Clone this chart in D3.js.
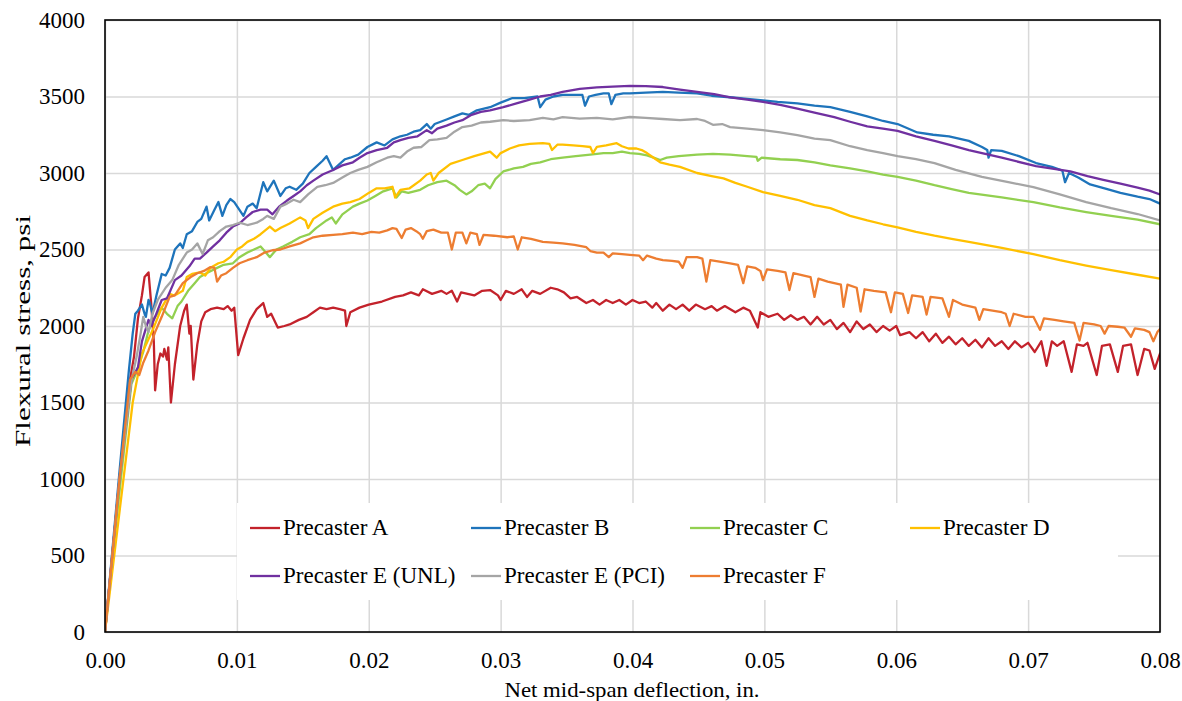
<!DOCTYPE html>
<html><head><meta charset="utf-8">
<script src="https://cdn.jsdelivr.net/npm/d3@7"></script>
<style>body{margin:0;background:#fff}text{font-family:"Liberation Serif","Times New Roman",serif;fill:#000}</style>
</head><body>
<svg id="chart" width="1182" height="701"></svg>
<script>
const xTicks = [0, 0.01, 0.02, 0.03, 0.04, 0.05, 0.06, 0.07, 0.08];
const yTicks = [0, 500, 1000, 1500, 2000, 2500, 3000, 3500, 4000];
const seriesNames = ["Precaster A", "Precaster B", "Precaster C", "Precaster D", "Precaster E (UNL)", "Precaster E (PCI)", "Precaster F"];
const seriesColors = ["#C3222B", "#1E74BB", "#92D050", "#FFC000", "#7030A0", "#A5A5A5", "#ED7D31"];

const precasterA = [[0,0],[0.0011,1000],[0.0019,1650],[0.0022,1800],[0.0025,2050],[0.0028,2200],[0.003,2320],[0.0033,2350],[0.0035,2150],[0.0037,1900],[0.0038,1580],[0.004,1750],[0.0042,1820],[0.0044,1800],[0.0045,1850],[0.0047,1780],[0.0048,1860],[0.005,1500],[0.0053,1750],[0.0057,2000],[0.006,2100],[0.0062,2140],[0.0064,1950],[0.0065,2000],[0.0067,1650],[0.007,1880],[0.0073,2030],[0.0076,2090],[0.008,2110],[0.0085,2120],[0.009,2110],[0.0093,2130],[0.0096,2100],[0.0098,2120],[0.0101,1810],[0.0105,1920],[0.011,2040],[0.0115,2110],[0.012,2150],[0.0123,2060],[0.0126,2080],[0.0131,1990],[0.0136,2000],[0.014,2010],[0.0147,2040],[0.0153,2060],[0.0158,2090],[0.0163,2120],[0.0168,2110],[0.0173,2120],[0.0178,2110],[0.0182,2100],[0.0183,2000],[0.0186,2090],[0.0193,2120],[0.02,2140],[0.021,2160],[0.022,2190],[0.0226,2200],[0.0232,2220],[0.0238,2200],[0.0241,2240],[0.0248,2210],[0.0255,2230],[0.0259,2210],[0.0263,2230],[0.0267,2160],[0.027,2220],[0.028,2200],[0.0286,2230],[0.0292,2235],[0.0298,2200],[0.03,2170],[0.0304,2230],[0.031,2210],[0.0316,2240],[0.032,2190],[0.0324,2230],[0.033,2210],[0.0338,2250],[0.0343,2240],[0.0348,2220],[0.0353,2180],[0.0358,2190],[0.0365,2150],[0.037,2170],[0.0375,2140],[0.038,2170],[0.0385,2150],[0.039,2170],[0.0395,2140],[0.04,2170],[0.0405,2150],[0.041,2160],[0.0415,2120],[0.0418,2150],[0.0423,2100],[0.0428,2140],[0.0433,2110],[0.0438,2140],[0.0443,2100],[0.0448,2140],[0.0455,2110],[0.046,2130],[0.0464,2100],[0.047,2130],[0.0478,2090],[0.0484,2120],[0.0489,2100],[0.0495,1990],[0.0497,2090],[0.0503,2060],[0.051,2080],[0.0515,2040],[0.052,2070],[0.0525,2040],[0.053,2060],[0.0535,2010],[0.054,2060],[0.0545,2010],[0.055,2040],[0.0555,1980],[0.056,2020],[0.0565,1960],[0.057,2030],[0.0575,1980],[0.058,2010],[0.0585,1960],[0.059,2000],[0.0595,1970],[0.06,2000],[0.0603,1940],[0.061,1960],[0.0615,1920],[0.062,1960],[0.0625,1900],[0.063,1950],[0.0635,1890],[0.064,1930],[0.0645,1880],[0.065,1920],[0.0655,1870],[0.066,1910],[0.0665,1860],[0.067,1920],[0.0675,1870],[0.068,1900],[0.0685,1850],[0.069,1900],[0.0695,1860],[0.07,1890],[0.0705,1830],[0.071,1900],[0.0714,1740],[0.0718,1900],[0.0722,1870],[0.0727,1900],[0.0733,1700],[0.0737,1880],[0.0742,1870],[0.0745,1890],[0.0752,1680],[0.0756,1870],[0.0762,1880],[0.0768,1700],[0.0772,1870],[0.0778,1880],[0.0783,1680],[0.0788,1850],[0.0792,1840],[0.0796,1720],[0.08,1820]];

const precasterB = [[0,0],[0.0011,1050],[0.0018,1700],[0.0021,1950],[0.0023,2080],[0.0025,2100],[0.0028,2140],[0.003,2080],[0.0031,2060],[0.0033,2170],[0.0034,2150],[0.0036,2080],[0.0039,2200],[0.0043,2340],[0.0046,2330],[0.0049,2380],[0.0053,2500],[0.0057,2540],[0.0059,2510],[0.0062,2600],[0.0066,2620],[0.007,2680],[0.0073,2700],[0.0077,2780],[0.0079,2690],[0.0083,2760],[0.0086,2810],[0.0089,2720],[0.0092,2790],[0.0095,2830],[0.0098,2810],[0.0105,2720],[0.0108,2780],[0.0112,2800],[0.0115,2770],[0.012,2940],[0.0123,2880],[0.0128,2950],[0.0133,2850],[0.0137,2900],[0.014,2910],[0.0145,2890],[0.015,2930],[0.0155,3000],[0.016,3040],[0.0165,3080],[0.0168,3110],[0.0173,3020],[0.0178,3060],[0.0182,3090],[0.0186,3100],[0.0192,3120],[0.0199,3170],[0.0206,3200],[0.0212,3180],[0.0218,3220],[0.0224,3240],[0.0229,3250],[0.0234,3270],[0.0239,3280],[0.0244,3320],[0.0247,3290],[0.025,3320],[0.0259,3350],[0.0265,3370],[0.0271,3390],[0.0276,3380],[0.0282,3410],[0.0292,3430],[0.03,3460],[0.0309,3490],[0.0318,3490],[0.0328,3500],[0.033,3430],[0.0334,3480],[0.034,3500],[0.0347,3510],[0.0355,3510],[0.0362,3510],[0.0364,3440],[0.0367,3500],[0.0372,3510],[0.0378,3520],[0.0382,3520],[0.0384,3450],[0.0387,3510],[0.0393,3520],[0.0398,3520],[0.041,3525],[0.0423,3530],[0.0435,3525],[0.0449,3520],[0.046,3505],[0.0474,3495],[0.0487,3485],[0.0499,3475],[0.051,3465],[0.0525,3455],[0.0538,3440],[0.055,3430],[0.0565,3400],[0.0578,3370],[0.059,3340],[0.0601,3320],[0.0616,3265],[0.0628,3250],[0.064,3240],[0.0655,3210],[0.0665,3170],[0.0669,3150],[0.067,3100],[0.0672,3150],[0.068,3145],[0.0693,3110],[0.0706,3065],[0.0718,3040],[0.0726,3015],[0.0728,2940],[0.0731,3000],[0.0738,2970],[0.0747,2925],[0.0758,2900],[0.077,2870],[0.0783,2845],[0.0792,2830],[0.08,2800]];

const precasterC = [[0,0],[0.0012,1000],[0.002,1620],[0.0024,1700],[0.0029,1830],[0.0033,1970],[0.0038,2060],[0.0043,2120],[0.0047,2080],[0.0051,2050],[0.0055,2130],[0.0058,2160],[0.0063,2230],[0.0068,2280],[0.0072,2320],[0.0078,2350],[0.0085,2380],[0.009,2400],[0.0097,2410],[0.0102,2450],[0.0108,2480],[0.0113,2500],[0.0118,2520],[0.0122,2480],[0.0125,2450],[0.013,2500],[0.0135,2520],[0.0142,2550],[0.0148,2580],[0.0155,2600],[0.016,2640],[0.0168,2690],[0.0172,2710],[0.0175,2670],[0.018,2730],[0.0188,2780],[0.0193,2800],[0.0199,2820],[0.0205,2850],[0.0211,2880],[0.0218,2900],[0.0221,2840],[0.0225,2880],[0.023,2870],[0.0239,2890],[0.0245,2920],[0.0252,2940],[0.0259,2950],[0.0265,2920],[0.0269,2890],[0.0274,2860],[0.0278,2880],[0.0283,2920],[0.0288,2930],[0.0292,2900],[0.0296,2960],[0.0302,3010],[0.031,3030],[0.0317,3040],[0.0323,3060],[0.033,3070],[0.0338,3090],[0.0347,3100],[0.0357,3110],[0.0368,3120],[0.0378,3130],[0.0385,3130],[0.0392,3140],[0.0398,3130],[0.0405,3125],[0.0411,3115],[0.0416,3100],[0.0421,3085],[0.0426,3100],[0.0435,3110],[0.0449,3120],[0.0461,3125],[0.0474,3120],[0.0487,3110],[0.0494,3105],[0.0495,3080],[0.0498,3100],[0.0512,3090],[0.0525,3085],[0.0538,3070],[0.055,3050],[0.0565,3030],[0.0578,3010],[0.059,2990],[0.0601,2975],[0.0615,2950],[0.0629,2920],[0.0642,2895],[0.0655,2870],[0.068,2840],[0.0704,2810],[0.0724,2775],[0.0744,2745],[0.0763,2720],[0.0783,2695],[0.08,2665]];

const precasterD = [[0,0],[0.0014,1000],[0.0021,1500],[0.0028,1820],[0.0036,1970],[0.0043,2120],[0.0049,2210],[0.0052,2200],[0.0055,2210],[0.0059,2230],[0.0062,2320],[0.0066,2340],[0.0072,2350],[0.0076,2330],[0.008,2380],[0.0086,2410],[0.009,2420],[0.0095,2450],[0.01,2500],[0.0104,2520],[0.0108,2550],[0.0113,2570],[0.0118,2600],[0.0125,2650],[0.0129,2620],[0.0133,2640],[0.014,2670],[0.0148,2710],[0.0152,2690],[0.0154,2640],[0.0158,2700],[0.0165,2740],[0.0173,2780],[0.018,2800],[0.0186,2810],[0.0193,2830],[0.02,2870],[0.0206,2900],[0.0212,2900],[0.0218,2910],[0.022,2840],[0.0224,2890],[0.0231,2900],[0.0239,2950],[0.0244,2990],[0.0247,3000],[0.0249,2950],[0.0253,3000],[0.0262,3060],[0.0271,3085],[0.028,3110],[0.0288,3130],[0.0292,3140],[0.0297,3100],[0.03,3130],[0.0307,3160],[0.0314,3180],[0.0322,3190],[0.0332,3195],[0.0337,3190],[0.0339,3150],[0.0343,3185],[0.0347,3185],[0.0355,3180],[0.0362,3175],[0.0368,3170],[0.037,3130],[0.0373,3170],[0.038,3180],[0.0388,3195],[0.0392,3175],[0.0397,3160],[0.0403,3160],[0.0407,3150],[0.0411,3130],[0.0416,3100],[0.0421,3070],[0.0428,3055],[0.0436,3040],[0.0449,3000],[0.046,2980],[0.0469,2965],[0.0478,2935],[0.0487,2910],[0.0499,2875],[0.0512,2850],[0.0525,2825],[0.0538,2790],[0.055,2770],[0.0565,2720],[0.0578,2690],[0.059,2665],[0.0601,2645],[0.0615,2615],[0.0629,2590],[0.0642,2570],[0.0655,2550],[0.068,2510],[0.0704,2470],[0.0724,2430],[0.0744,2395],[0.0763,2365],[0.0783,2335],[0.08,2310]];

const precasterEUNL = [[0,0],[0.0011,1000],[0.002,1650],[0.0025,1730],[0.0028,1900],[0.0033,2040],[0.0035,2000],[0.0038,2060],[0.0043,2170],[0.0047,2180],[0.0053,2300],[0.0058,2330],[0.0064,2390],[0.0068,2440],[0.0072,2440],[0.0077,2480],[0.0082,2520],[0.0087,2560],[0.0092,2610],[0.0097,2650],[0.0102,2670],[0.0107,2710],[0.0112,2745],[0.0118,2760],[0.0123,2760],[0.0127,2730],[0.0132,2780],[0.0138,2820],[0.0143,2850],[0.0148,2880],[0.0153,2920],[0.0158,2950],[0.0165,2990],[0.0173,3020],[0.018,3050],[0.0188,3070],[0.0193,3100],[0.0199,3130],[0.0206,3150],[0.0214,3165],[0.0219,3200],[0.0224,3215],[0.023,3230],[0.0237,3240],[0.0244,3280],[0.0248,3260],[0.0252,3290],[0.0259,3310],[0.0265,3330],[0.0271,3345],[0.0278,3380],[0.0285,3400],[0.0292,3410],[0.0302,3430],[0.0312,3455],[0.0322,3480],[0.033,3500],[0.0338,3510],[0.0347,3530],[0.036,3550],[0.0373,3560],[0.0385,3565],[0.0398,3570],[0.041,3568],[0.0423,3562],[0.0436,3545],[0.0449,3530],[0.0462,3515],[0.0474,3495],[0.0487,3480],[0.0499,3465],[0.0512,3445],[0.0525,3420],[0.0538,3395],[0.0553,3365],[0.0565,3335],[0.0578,3305],[0.059,3290],[0.0601,3275],[0.0615,3240],[0.0629,3210],[0.0642,3180],[0.0655,3150],[0.068,3100],[0.0706,3045],[0.0732,3010],[0.0745,2980],[0.0757,2955],[0.077,2930],[0.0783,2905],[0.0792,2885],[0.08,2860]];

const precasterEPCI = [[0,0],[0.0011,1000],[0.002,1640],[0.0024,1800],[0.0027,1950],[0.0029,2060],[0.0031,2000],[0.0033,1960],[0.0036,2080],[0.004,2170],[0.0046,2250],[0.0051,2300],[0.0056,2400],[0.0062,2480],[0.0066,2500],[0.007,2540],[0.0074,2470],[0.0078,2560],[0.0082,2580],[0.0087,2620],[0.0092,2650],[0.0097,2660],[0.0102,2675],[0.0108,2660],[0.0115,2675],[0.012,2700],[0.0123,2720],[0.0128,2700],[0.0133,2780],[0.0138,2800],[0.0143,2825],[0.0148,2810],[0.0154,2860],[0.0161,2910],[0.0167,2920],[0.0173,2935],[0.018,2970],[0.0186,3000],[0.0192,3020],[0.0199,3040],[0.0206,3070],[0.0214,3100],[0.0219,3110],[0.0224,3100],[0.0229,3140],[0.0234,3165],[0.024,3170],[0.0246,3215],[0.0252,3220],[0.0259,3230],[0.0265,3270],[0.0271,3300],[0.0278,3310],[0.0285,3330],[0.0292,3335],[0.0302,3345],[0.031,3340],[0.0322,3345],[0.0332,3360],[0.034,3350],[0.0347,3365],[0.036,3355],[0.0373,3360],[0.0385,3350],[0.0398,3366],[0.041,3360],[0.0423,3353],[0.0436,3345],[0.0449,3353],[0.0455,3340],[0.0461,3315],[0.0468,3320],[0.0474,3300],[0.0487,3290],[0.0499,3280],[0.0512,3265],[0.0525,3248],[0.0538,3225],[0.055,3215],[0.0565,3175],[0.0578,3150],[0.059,3130],[0.0601,3110],[0.0615,3090],[0.0629,3065],[0.0645,3020],[0.0665,2975],[0.0685,2940],[0.0704,2908],[0.0724,2860],[0.0744,2810],[0.0763,2770],[0.0783,2732],[0.08,2690]];

const precasterF = [[0,0],[0.0011,1000],[0.0019,1650],[0.0023,1700],[0.0026,1680],[0.0029,1760],[0.0033,1840],[0.0038,1960],[0.0043,2060],[0.0049,2190],[0.0053,2200],[0.0059,2280],[0.0065,2320],[0.007,2345],[0.0075,2360],[0.008,2385],[0.0083,2380],[0.0085,2290],[0.0088,2330],[0.0092,2345],[0.0097,2380],[0.0102,2410],[0.0108,2430],[0.0115,2450],[0.0121,2480],[0.0127,2495],[0.0133,2500],[0.014,2520],[0.0148,2540],[0.0153,2560],[0.0158,2580],[0.0165,2590],[0.0173,2595],[0.018,2600],[0.0188,2610],[0.0195,2600],[0.0202,2615],[0.0208,2610],[0.0214,2625],[0.0218,2640],[0.0221,2635],[0.0225,2575],[0.0228,2630],[0.0232,2640],[0.0236,2620],[0.0239,2600],[0.0241,2570],[0.0244,2620],[0.0249,2630],[0.0255,2610],[0.026,2610],[0.0263,2500],[0.0266,2610],[0.0271,2610],[0.0274,2540],[0.0277,2610],[0.0282,2600],[0.0284,2530],[0.0287,2595],[0.0295,2590],[0.0305,2580],[0.031,2585],[0.0313,2500],[0.0316,2580],[0.0323,2570],[0.0332,2550],[0.034,2545],[0.0347,2540],[0.0356,2530],[0.0365,2515],[0.0368,2490],[0.0373,2480],[0.0378,2480],[0.0382,2450],[0.0385,2475],[0.0392,2470],[0.0398,2465],[0.0405,2460],[0.0408,2430],[0.0411,2460],[0.0418,2440],[0.0423,2430],[0.043,2425],[0.0435,2420],[0.0438,2380],[0.0441,2450],[0.0449,2450],[0.0453,2440],[0.0456,2290],[0.0459,2430],[0.0466,2420],[0.0474,2410],[0.048,2400],[0.0484,2280],[0.0487,2390],[0.0493,2380],[0.0497,2360],[0.0499,2300],[0.0502,2370],[0.051,2360],[0.0516,2350],[0.0519,2235],[0.0522,2345],[0.053,2330],[0.0535,2320],[0.0538,2190],[0.0541,2310],[0.0548,2290],[0.0553,2280],[0.0558,2270],[0.056,2125],[0.0563,2270],[0.057,2250],[0.0573,2095],[0.0576,2240],[0.0583,2230],[0.0592,2220],[0.0596,2090],[0.0599,2220],[0.0605,2210],[0.0609,2085],[0.0612,2200],[0.062,2190],[0.0623,2075],[0.0626,2190],[0.0635,2180],[0.064,2060],[0.0643,2170],[0.065,2140],[0.0655,2130],[0.066,2120],[0.0663,2040],[0.0666,2110],[0.0673,2100],[0.068,2090],[0.0683,2080],[0.0686,2000],[0.0689,2080],[0.0698,2060],[0.0704,2060],[0.0709,1975],[0.0712,2050],[0.072,2040],[0.0727,2030],[0.0735,2020],[0.0739,1905],[0.0742,2020],[0.075,2010],[0.0755,2000],[0.0758,1950],[0.0761,2000],[0.0768,1995],[0.0773,1990],[0.0778,1930],[0.0781,1985],[0.0788,1975],[0.0792,1960],[0.0795,1900],[0.0798,1960],[0.08,1980]];

const seriesData = [precasterA, precasterB, precasterC, precasterD, precasterEUNL, precasterEPCI, precasterF];

const svg = d3.select("#chart");
const plot = {left: 105, right: 1160, top: 20, bottom: 632};
const x = d3.scaleLinear().domain([0, 0.08]).range([plot.left, plot.right]);
const y = d3.scaleLinear().domain([0, 4000]).range([plot.bottom, plot.top]);
const FONT = 'font-family:"Liberation Serif",serif';

// gridlines
const gx = svg.append("g").attr("transform", `translate(0,${plot.bottom})`)
  .call(d3.axisBottom(x).tickValues(xTicks).tickSize(-(plot.bottom - plot.top)).tickFormat(""));
gx.select(".domain").remove();
gx.selectAll("line").attr("stroke", "#d9d9d9").attr("stroke-width", 1.5);
const gy = svg.append("g").attr("transform", `translate(${plot.left},0)`)
  .call(d3.axisLeft(y).tickValues(yTicks).tickSize(-(plot.right - plot.left)).tickFormat(""));
gy.select(".domain").remove();
gy.selectAll("line").attr("stroke", "#d9d9d9").attr("stroke-width", 1.5);

// clip
svg.append("clipPath").attr("id", "clip").append("rect")
  .attr("x", plot.left).attr("y", plot.top).attr("width", plot.right - plot.left).attr("height", plot.bottom - plot.top);

const line = d3.line().x(d => x(d[0])).y(d => y(d[1]));
const lines = svg.append("g").attr("clip-path", "url(#clip)");
seriesData.forEach((data, i) => {
  lines.append("path").datum(data).attr("d", line)
    .attr("fill", "none").attr("stroke", seriesColors[i]).attr("stroke-width", 2.3)
    .attr("stroke-linejoin", "round").attr("stroke-linecap", "round");
});

// frame
svg.append("rect").attr("x", plot.left).attr("y", plot.top)
  .attr("width", plot.right - plot.left).attr("height", plot.bottom - plot.top)
  .attr("fill", "none").attr("stroke", "#000").attr("stroke-width", 1.6);

// axis labels
const ax = svg.append("g").attr("transform", `translate(0,${plot.bottom})`)
  .call(d3.axisBottom(x).tickValues(xTicks).tickSize(0).tickPadding(20).tickFormat(d3.format(".2f")));
ax.select(".domain").remove();
ax.selectAll("text").attr("font-size", 23).attr("style", FONT).attr("fill", "#000");
const ay = svg.append("g").attr("transform", `translate(${plot.left},0)`)
  .call(d3.axisLeft(y).tickValues(yTicks).tickSize(0).tickPadding(20).tickFormat(d3.format("d")));
ay.select(".domain").remove();
ay.selectAll("text").attr("font-size", 23).attr("style", FONT).attr("fill", "#000");

svg.append("text").attr("x", 632).attr("y", 697).attr("text-anchor", "middle")
  .attr("font-size", 22).attr("textLength", 255).attr("lengthAdjust", "spacingAndGlyphs")
  .text("Net mid-span deflection, in.");
svg.append("text").attr("transform", "translate(30,331) rotate(-90)").attr("text-anchor", "middle")
  .attr("font-size", 22).attr("textLength", 232).attr("lengthAdjust", "spacingAndGlyphs")
  .text("Flexural stress, psi");

// legend
const legend = svg.append("g");
legend.append("rect").attr("x", 237).attr("y", 503).attr("width", 881).attr("height", 97).attr("fill", "#fff");
const colX = [250, 471, 690, 910];
const rowY = [528, 576];
seriesNames.forEach((name, i) => {
  const r = i < 4 ? 0 : 1;
  const c = i < 4 ? i : i - 4;
  const g = legend.append("g").attr("transform", `translate(${colX[c]},${rowY[r]})`);
  g.append("line").attr("x1", 0).attr("x2", 30).attr("y1", 0).attr("y2", 0)
    .attr("stroke", seriesColors[i]).attr("stroke-width", 2.3);
  g.append("text").attr("x", 33).attr("y", 7).attr("font-size", 23).text(name);
});
</script>
</body></html>
